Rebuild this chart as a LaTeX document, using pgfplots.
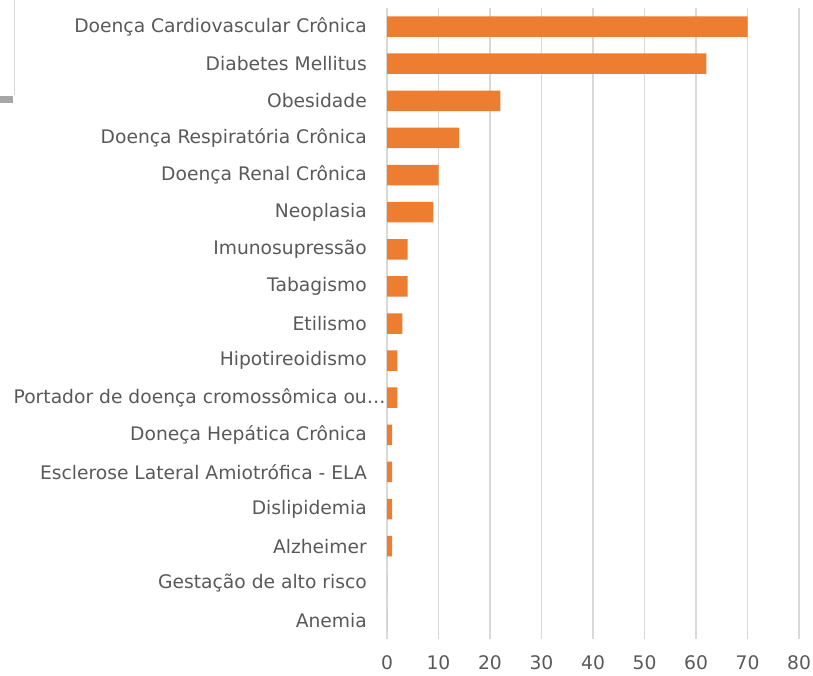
\documentclass[border=0pt]{standalone}
\usepackage{fontspec}
\setmainfont{DejaVu Sans}
\usepackage{pgfplots}
\pgfplotsset{compat=1.18}
\definecolor{barorange}{HTML}{ED7D31}
\definecolor{gridgray}{HTML}{D9D9D9}
\definecolor{txtgray}{HTML}{595959}
\begin{document}
\begin{tikzpicture}
\useasboundingbox (0pt,0pt) rectangle (813pt,675pt);
% cropped frame remnant at top left
\draw[line width=1.2pt, color=black!15] (14.5pt,675pt) -- (14.5pt,580pt);
\fill[black!35] (0pt,572pt) rectangle (13pt,579pt);
\begin{axis}[
  at={(387pt,36pt)}, anchor=south west,
  scale only axis,
  width=412pt, height=631pt,
  xbar, bar width=20.5pt,
  xmin=0, xmax=80,
  ymin=-0.5, ymax=16.5,
  y dir=reverse,
  xtick={0,10,...,80},
  ytick={0,...,16},
  yticklabels={Doença Cardiovascular Crônica,Diabetes Mellitus,Obesidade,Doença Respiratória Crônica,Doença Renal Crônica,Neoplasia,Imunosupressão,Tabagismo,Etilismo,Hipotireoidismo,{Portador de doença cromossômica ou\rlap{…}},Doneça Hepática Crônica,Esclerose Lateral Amiotrófica - ELA,Dislipidemia,Alzheimer,Gestação de alto risco,Anemia},
  major tick length=0pt,
  xmajorgrids,
  grid style={gridgray, line width=1.3pt},
  axis line style={draw=none},
  tick label style={font=\fontsize{18.7}{22}\selectfont, text=txtgray},
  y tick label style={inner sep=0pt, anchor=east, xshift=-20pt},
  x tick label style={inner sep=0pt, anchor=center, yshift=-24pt},
  /pgf/number format/assume math mode=true,
  clip=false,
]
\addplot[fill=barorange, draw=none] coordinates {
(70,0) (62,1) (22,2) (14,3) (10,4) (9,5) (4,6) (4,7) (3,8) (2,9) (2,10) (1,11) (1,12) (1,13) (1,14) (0,15) (0,16)
};
\end{axis}
\end{tikzpicture}
\end{document}
